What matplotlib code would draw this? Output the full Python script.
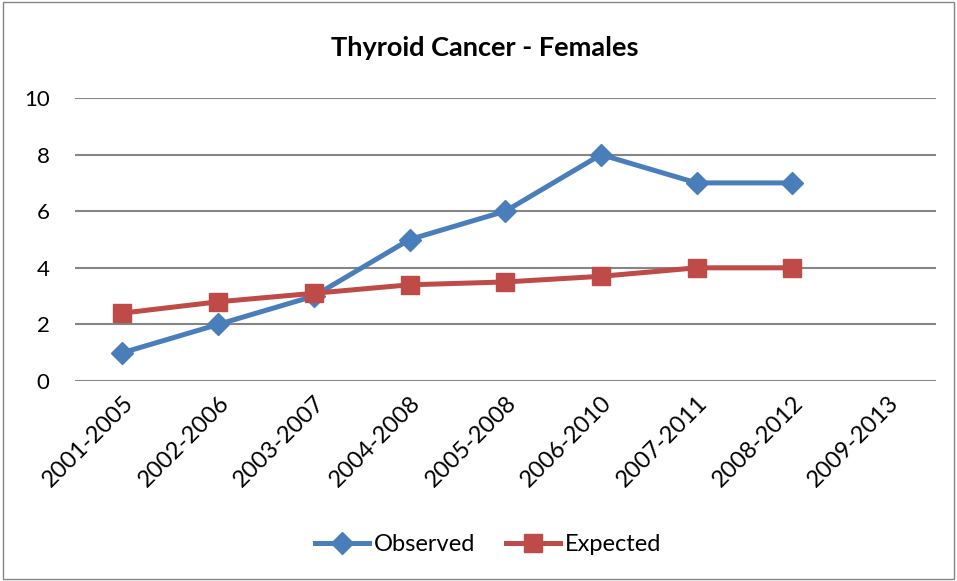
import numpy as np
import matplotlib.pyplot as plt
from matplotlib.patches import Rectangle

# data
periods = ['2001-2005', '2002-2006', '2003-2007', '2004-2008', '2005-2008',
           '2006-2010', '2007-2011', '2008-2012', '2009-2013']
observed = [1, 2, 3, 5, 6, 8, 7, 7, np.nan]
expected = [2.4, 2.8, 3.1, 3.4, 3.5, 3.7, 4.0, 4.0, np.nan]

plt.rcParams['font.family'] = ['Lato', 'DejaVu Sans']

fig = plt.figure(figsize=(9.57, 5.81), dpi=100)
ax = fig.add_axes([0.078, 0.3442, 0.900, 0.4871])

x = np.arange(len(periods))
ax.plot(x, observed, color='#4A7EBB', lw=3.6, marker='D', markersize=11,
        label='Observed', zorder=3)
ax.plot(x, expected, color='#BE4B48', lw=3.6, marker='s', markersize=13,
        label='Expected', zorder=4)

ax.set_xlim(-0.5, len(periods) - 0.5)
ax.set_ylim(0, 10)
ax.set_yticks(range(0, 11, 2))
ax.set_xticks(x)
ax.set_xticklabels(periods, rotation=45, ha='right', rotation_mode='anchor')
ax.tick_params(axis='both', length=0, labelsize=16)
ax.tick_params(axis='x', labelsize=17, pad=8)
ax.tick_params(axis='y', pad=18)
ax.grid(axis='y', color='#868686', lw=1.5)
ax.set_axisbelow(True)
for s in ax.spines.values():
    s.set_visible(False)

fig.text(0.507, 0.917, 'Thyroid Cancer - Females', ha='center', va='center',
         fontsize=19.5, fontweight='bold')
fig.legend(loc='center', bbox_to_anchor=(0.51, 0.062), ncol=2, frameon=False,
           fontsize=17, handlelength=2.3, handletextpad=0.2, columnspacing=1.3)

# outer chart border
fig.patches.append(Rectangle((0.003, 0.003), 0.994, 0.994, transform=fig.transFigure,
                             fill=False, ec='#868686', lw=1))

fig.savefig('out.png', dpi=100)
